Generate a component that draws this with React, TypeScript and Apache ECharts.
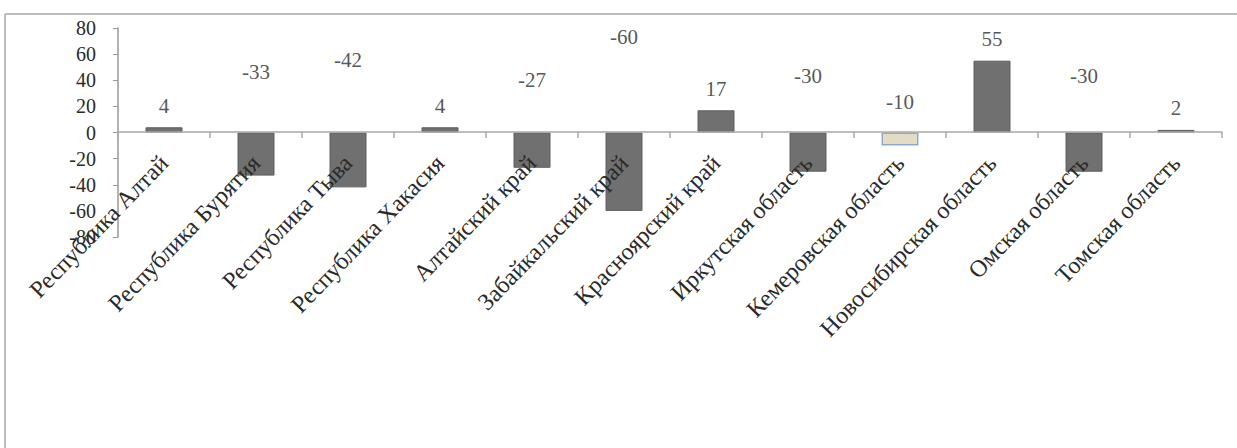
import React, { useEffect, useRef } from "react";
import * as echarts from "echarts";

const categories = [
  "Республика Алтай",
  "Республика Бурятия",
  "Республика Тыва",
  "Республика Хакасия",
  "Алтайский край",
  "Забайкальский край",
  "Красноярский край",
  "Иркутская область",
  "Кемеровская область",
  "Новосибирская область",
  "Омская область",
  "Томская область",
];
const values = [4, -33, -42, 4, -27, -60, 17, -30, -10, 55, -30, 2];
const highlightedCategory = "Кемеровская область";
const yTicks = { min: -80, max: 80, interval: 20 };

const FONT = "'Liberation Serif', 'Times New Roman', serif";

export default function App() {
  const ref = useRef<HTMLDivElement>(null);
  useEffect(() => {
    if (!ref.current) return;
    const chart = echarts.init(ref.current, null, { renderer: "svg" });
    const barData = values.map((v, i) =>
      categories[i] === highlightedCategory
        ? {
            value: v,
            itemStyle: { color: "#e2dcc2", borderColor: "#8ea8d2", borderWidth: 1.5 },
          }
        : v
    );
    const labelData = values.map((v, i) => ({
      value: [i, Math.abs(v)],
      label: { distance: v < 0 ? 7 : 11 },
    }));
    chart.setOption({
      animation: false,
      backgroundColor: "#ffffff",
      grid: { left: 118, right: 15, top: 28, bottom: 211, containLabel: false },
      xAxis: {
        type: "category",
        data: categories,
        offset: -105,
        axisLine: { onZero: false, lineStyle: { color: "#a8a8a8", width: 1.5 } },
        axisTick: { show: true, length: 6, lineStyle: { color: "#a8a8a8", width: 1.5 } },
        axisLabel: {
          rotate: 46,
          interval: 0,
          margin: 27,
          fontFamily: FONT,
          fontSize: 24,
          color: "#2a2a2a",
        },
        z: 5,
      },
      yAxis: {
        type: "value",
        min: yTicks.min,
        max: yTicks.max,
        interval: yTicks.interval,
        axisLine: { show: true, lineStyle: { color: "#999999", width: 1.5 } },
        axisTick: { show: true, length: 5, lineStyle: { color: "#999999" } },
        splitLine: { show: false },
        axisLabel: {
          margin: 22,
          fontFamily: FONT,
          fontSize: 20,
          color: "#2a2a2a",
        },
      },
      series: [
        {
          type: "bar",
          data: barData,
          barWidth: 37,
          itemStyle: { color: "#707070", borderColor: "#5e5e5e", borderWidth: 1 },
          z: 2,
        },
        {
          type: "scatter",
          data: labelData,
          symbolSize: 0,
          silent: true,
          label: {
            show: true,
            position: "top",
            fontFamily: FONT,
            fontSize: 21,
            color: "#2a2a2a",
            formatter: (p: any) => String(values[p.dataIndex]),
          },
          z: 3,
        },
      ],
      graphic: [
        {
          type: "line",
          shape: { x1: 5, y1: 14, x2: 1237, y2: 14 },
          style: { stroke: "#bdbdbd", lineWidth: 2 },
        },
        {
          type: "line",
          shape: { x1: 5, y1: 14, x2: 5, y2: 448 },
          style: { stroke: "#bdbdbd", lineWidth: 2 },
        },
      ],
    });
    return () => chart.dispose();
  }, []);
  return (
    <div
      ref={ref}
      style={{ position: "fixed", left: 0, top: 0, width: 1237, height: 448, background: "#fff" }}
    />
  );
}
